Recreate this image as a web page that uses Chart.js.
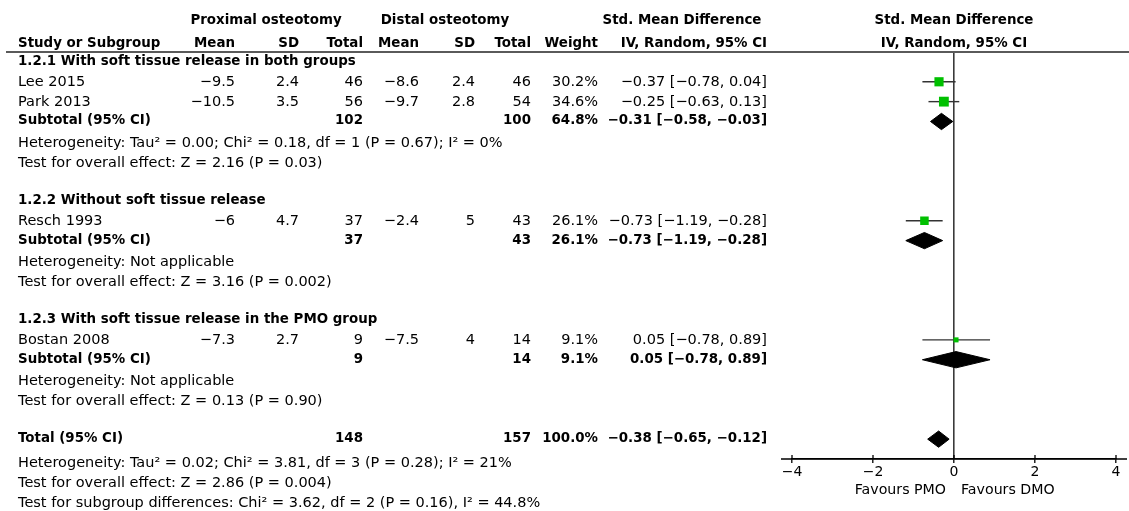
<!DOCTYPE html>
<html>
<head>
<meta charset="utf-8">
<script src="https://cdn.jsdelivr.net/npm/chart.js"></script>
<style>
    body { margin: 0; background: #fff; }
    #wrap { position: relative; width: 1129px; height: 511px; }
</style>
</head>
<body>
<div id="wrap"><canvas id="forestChart"></canvas></div>
<script>
// study level data
var studies = ['Lee 2015', 'Park 2013', 'Resch 1993', 'Bostan 2008'];
var studyGroup = [0, 0, 1, 2];
var pmoMean = [-9.5, -10.5, -6, -7.3];
var pmoSD = [2.4, 3.5, 4.7, 2.7];
var pmoTotal = [46, 56, 37, 9];
var dmoMean = [-8.6, -9.7, -2.4, -7.5];
var dmoSD = [2.4, 2.8, 5, 4];
var dmoTotal = [46, 54, 43, 14];
var weights = [30.2, 34.6, 26.1, 9.1];
var smd = [-0.37, -0.25, -0.73, 0.05];
var ciLow = [-0.78, -0.63, -1.19, -0.78];
var ciHigh = [0.04, 0.13, -0.28, 0.89];

// subgroups
var groupTitles = ['1.2.1 With soft tissue release in both groups', '1.2.2 Without soft tissue release', '1.2.3 With soft tissue release in the PMO group'];
var subPmoTotal = [102, 37, 9];
var subDmoTotal = [100, 43, 14];
var subWeight = [64.8, 26.1, 9.1];
var subSmd = [-0.31, -0.73, 0.05];
var subLow = [-0.58, -1.19, -0.78];
var subHigh = [-0.03, -0.28, 0.89];
var subHet = ['Heterogeneity: Tau\u00b2 = 0.00; Chi\u00b2 = 0.18, df = 1 (P = 0.67); I\u00b2 = 0%', 'Heterogeneity: Not applicable', 'Heterogeneity: Not applicable'];
var subEffect = ['Test for overall effect: Z = 2.16 (P = 0.03)', 'Test for overall effect: Z = 3.16 (P = 0.002)', 'Test for overall effect: Z = 0.13 (P = 0.90)'];

// overall
var totalPmo = 148;
var totalDmo = 157;
var totalWeight = 100.0;
var totalSmd = -0.38;
var totalLow = -0.65;
var totalHigh = -0.12;
var totalNotes = ['Heterogeneity: Tau\u00b2 = 0.02; Chi\u00b2 = 3.81, df = 3 (P = 0.28); I\u00b2 = 21%', 'Test for overall effect: Z = 2.86 (P = 0.004)', 'Test for subgroup differences: Chi\u00b2 = 3.62, df = 2 (P = 0.16), I\u00b2 = 44.8%'];

var xTicks = [-4, -2, 0, 2, 4];
var favoursLeft = 'Favours PMO';
var favoursRight = 'Favours DMO';

// ---- layout (row slots, column anchors) ----
var FONT = '14.5px "DejaVu Sans"';
var BOLD = 'bold 13.4px "DejaVu Sans"';
var colX = { name: 18, pMean: 235, pSD: 299, pTot: 363, dMean: 419, dSD: 475, dTot: 531, weight: 598, ci: 767 };

function fmtNum(v) { return String(v).replace('-', '\u2212'); }
function fmt2(v) { return v.toFixed(2).replace('-', '\u2212'); }
function fmtCI(e, lo, hi) { return fmt2(e) + ' [' + fmt2(lo) + ', ' + fmt2(hi) + ']'; }

// build row list
var rows = [];
var studyRow = [];
var subRow = [];
var r = 0;
groupTitles.forEach(function (title, g) {
    rows.push({ kind: 'title', row: r++, g: g });
    studies.forEach(function (s, i) {
        if (studyGroup[i] === g) {
            studyRow[i] = r;
            rows.push({ kind: 'study', row: r++, i: i });
        }
    });
    subRow[g] = r;
    rows.push({ kind: 'sub', row: r++, g: g });
    rows.push({ kind: 'het', row: r++ + 0.08, g: g });
    rows.push({ kind: 'eff', row: r++ + 0.08, g: g });
    r++; // blank
});
var totalRow = r;

var diamondHalf = 0.41;

var datasets = [];
// CI whiskers
studies.forEach(function (s, i) {
    datasets.push({
        data: [{ x: ciLow[i], y: studyRow[i] }, { x: ciHigh[i], y: studyRow[i] }],
        showLine: true,
        borderColor: '#333',
        borderWidth: 1.4,
        pointRadius: 0,
        order: 2
    });
});
// weighted boxes
datasets.push({
    data: studies.map(function (s, i) { return { x: smd[i], y: studyRow[i] }; }),
    pointStyle: 'rect',
    pointRadius: weights.map(function (w) { return 1.67 * Math.sqrt(w) / Math.SQRT2; }),
    pointBackgroundColor: '#00c000',
    pointBorderWidth: 0,
    pointBorderColor: '#00c000',
    order: 1
});
// diamonds
function diamond(est, lo, hi, row) {
    return {
        data: [
            { x: lo, y: row }, { x: est, y: row - diamondHalf },
            { x: hi, y: row }, { x: est, y: row + diamondHalf }, { x: lo, y: row }
        ],
        showLine: true,
        fill: 'shape',
        backgroundColor: '#000',
        borderColor: '#000',
        borderWidth: 1,
        pointRadius: 0,
        tension: 0,
        order: 0
    };
}
groupTitles.forEach(function (t, g) {
    datasets.push(diamond(subSmd[g], subLow[g], subHigh[g], subRow[g]));
});
datasets.push(diamond(totalSmd, totalLow, totalHigh, totalRow));

var tablePlugin = {
    id: 'tableText',
    afterDraw: function (chart) {
        var ctx = chart.ctx;
        var xs = chart.scales.x;
        var ys = chart.scales.y;
        var area = chart.chartArea;
        var x0 = xs.getPixelForValue(0);

        function txt(s, x, row, align, bold) {
            ctx.font = bold ? BOLD : FONT;
            ctx.textAlign = align;
            ctx.fillText(s, x, Math.round(ys.getPixelForValue(row)));
        }

        ctx.save();
        ctx.fillStyle = '#000';
        ctx.textBaseline = 'middle';

        // header
        var h1 = -2.05, h2 = -0.9;
        txt('Proximal osteotomy', 266, h1, 'center', true);
        txt('Distal osteotomy', 445, h1, 'center', true);
        txt('Std. Mean Difference', 682, h1, 'center', true);
        txt('Std. Mean Difference', x0, h1, 'center', true);
        txt('Study or Subgroup', colX.name, h2, 'left', true);
        txt('Mean', colX.pMean, h2, 'right', true);
        txt('SD', colX.pSD, h2, 'right', true);
        txt('Total', colX.pTot, h2, 'right', true);
        txt('Mean', colX.dMean, h2, 'right', true);
        txt('SD', colX.dSD, h2, 'right', true);
        txt('Total', colX.dTot, h2, 'right', true);
        txt('Weight', colX.weight, h2, 'right', true);
        txt('IV, Random, 95% CI', colX.ci, h2, 'right', true);
        txt('IV, Random, 95% CI', x0, h2, 'center', true);

        rows.forEach(function (rw) {
            if (rw.kind === 'title') {
                txt(groupTitles[rw.g], colX.name, rw.row, 'left', true);
            } else if (rw.kind === 'study') {
                var i = rw.i;
                txt(studies[i], colX.name, rw.row, 'left', false);
                txt(fmtNum(pmoMean[i]), colX.pMean, rw.row, 'right', false);
                txt(fmtNum(pmoSD[i]), colX.pSD, rw.row, 'right', false);
                txt(String(pmoTotal[i]), colX.pTot, rw.row, 'right', false);
                txt(fmtNum(dmoMean[i]), colX.dMean, rw.row, 'right', false);
                txt(fmtNum(dmoSD[i]), colX.dSD, rw.row, 'right', false);
                txt(String(dmoTotal[i]), colX.dTot, rw.row, 'right', false);
                txt(weights[i].toFixed(1) + '%', colX.weight, rw.row, 'right', false);
                txt(fmtCI(smd[i], ciLow[i], ciHigh[i]), colX.ci, rw.row, 'right', false);
            } else if (rw.kind === 'sub') {
                var g = rw.g;
                txt('Subtotal (95% CI)', colX.name, rw.row, 'left', true);
                txt(String(subPmoTotal[g]), colX.pTot, rw.row, 'right', true);
                txt(String(subDmoTotal[g]), colX.dTot, rw.row, 'right', true);
                txt(subWeight[g].toFixed(1) + '%', colX.weight, rw.row, 'right', true);
                txt(fmtCI(subSmd[g], subLow[g], subHigh[g]), colX.ci, rw.row, 'right', true);
            } else if (rw.kind === 'het') {
                txt(subHet[rw.g], colX.name, rw.row, 'left', false);
            } else if (rw.kind === 'eff') {
                txt(subEffect[rw.g], colX.name, rw.row, 'left', false);
            }
        });

        txt('Total (95% CI)', colX.name, totalRow, 'left', true);
        txt(String(totalPmo), colX.pTot, totalRow, 'right', true);
        txt(String(totalDmo), colX.dTot, totalRow, 'right', true);
        txt(totalWeight.toFixed(1) + '%', colX.weight, totalRow, 'right', true);
        txt(fmtCI(totalSmd, totalLow, totalHigh), colX.ci, totalRow, 'right', true);
        totalNotes.forEach(function (n, k) {
            txt(n, colX.name, totalRow + 1.2 + k, 'left', false);
        });

        // header rule
        ctx.strokeStyle = '#5a5a5a';
        ctx.lineWidth = 2;
        ctx.beginPath();
        ctx.moveTo(6, area.top);
        ctx.lineTo(chart.width, area.top);
        ctx.stroke();

        // axis extension + upper half of tick marks
        ctx.strokeStyle = '#000';
        ctx.lineWidth = 1.3;
        ctx.beginPath();
        ctx.moveTo(xs.getPixelForValue(xTicks[0]) - 11, area.bottom);
        ctx.lineTo(xs.getPixelForValue(xTicks[xTicks.length - 1]) + 11, area.bottom);
        xTicks.forEach(function (t) {
            var px = xs.getPixelForValue(t);
            ctx.moveTo(px, area.bottom - 4);
            ctx.lineTo(px, area.bottom);
        });
        ctx.stroke();

        // favours labels
        ctx.font = '14.2px "DejaVu Sans"';
        ctx.textAlign = 'right';
        ctx.fillText(favoursLeft, x0 - 8, 490);
        ctx.textAlign = 'left';
        ctx.fillText(favoursRight, x0 + 7, 490);
        ctx.restore();
    }
};

var ctx = document.getElementById('forestChart').getContext('2d');
var forestChart = new Chart(ctx, {
    type: 'scatter',
    data: { datasets: datasets },
    options: {
        responsive: true,
        maintainAspectRatio: false,
        animation: false,
        layout: { padding: { left: 792, right: 13, top: 52, bottom: 0 } },
        plugins: {
            legend: { display: false },
            tooltip: { enabled: false }
        },
        scales: {
            x: {
                type: 'linear',
                min: xTicks[0],
                max: xTicks[xTicks.length - 1],
                afterBuildTicks: function (scale) {
                    scale.ticks = xTicks.map(function (v) { return { value: v }; });
                },
                afterFit: function (scale) { scale.height = 52; },
                border: { display: true, color: '#000', width: 1.3 },
                grid: {
                    drawOnChartArea: true,
                    drawTicks: true,
                    tickLength: 4,
                    tickColor: '#000',
                    tickWidth: 1.3,
                    color: function (c) { return c.tick && c.tick.value === 0 ? '#3a3a3a' : 'rgba(0,0,0,0)'; },
                    lineWidth: 1.6
                },
                ticks: {
                    color: '#000',
                    padding: 1,
                    font: { family: 'DejaVu Sans', size: 14 },
                    callback: function (v) { return fmtNum(v); }
                }
            },
            y: {
                type: 'linear',
                display: false,
                reverse: true,
                min: -0.5,
                max: totalRow + 1
            }
        }
    },
    plugins: [tablePlugin]
});
</script>
</body>
</html>
